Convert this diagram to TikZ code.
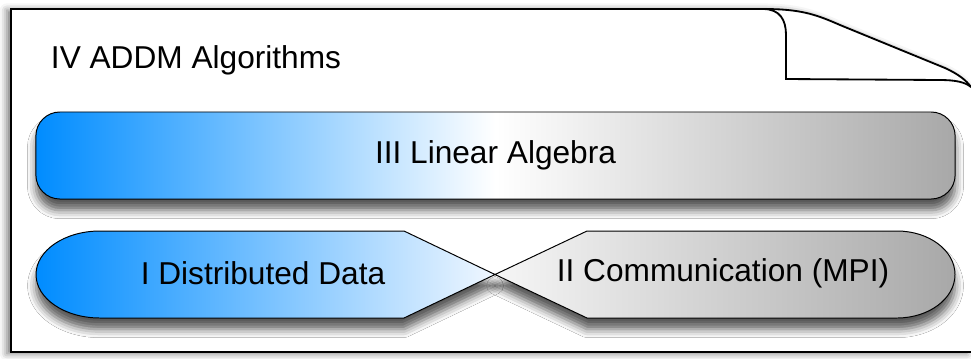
\documentclass[tikz,border=0pt]{standalone}
\usepackage{fontspec}
\setmainfont{Liberation Sans}
\usetikzlibrary{shadows, shadows.blur}
\definecolor{layerblue}{RGB}{0,140,255}
\definecolor{layergray}{RGB}{168,168,168}
\definecolor{layerwhite}{RGB}{240,247,255}
\definecolor{commwhite}{RGB}{246,246,246}
\tikzstyle{layerbox} = [draw=black, line width=0.7pt,
blur shadow={shadow xshift=0pt, shadow yshift=-8pt, shadow blur radius=6pt, shadow opacity=65}]
\tikzstyle{layertext} = [font=\fontsize{22.5}{26}\selectfont, text=black]
\tikzstyle{pageline} = [draw=black, line width=1.3pt]

\begin{document}
\begin{tikzpicture}[x=0.025cm, y=-0.025cm]
        \useasboundingbox (0,0) rectangle (971,358);
        % page with curled corner
        \fill [white, blur shadow={shadow xshift=-3pt, shadow yshift=-1pt, shadow blur radius=5pt, shadow opacity=55}]
            (11,352) -- (11,9) -- (763,9) .. controls (800,9) and (815,14) .. (840,25)
            -- (945,68) .. controls (958,74) and (966,80) .. (971,87) -- (971,352) -- cycle;
        \draw [pageline] (971,352) -- (11,352) -- (11,9) -- (763,9)
            .. controls (800,9) and (815,14) .. (840,25)
            -- (945,68) .. controls (958,74) and (966,80) .. (971,87);
        \draw [pageline] (763,9) .. controls (780,9) and (786,20) .. (786,35)
            -- (786,79) -- (940,80) .. controls (955,80) and (965,82) .. (971,87);
        \node (algos) [layertext, anchor=west] at (46,60) {IV ADDM Algorithms};
        % layer III
        \node (linalg) [layerbox, layertext, rounded corners=0.6cm,
            minimum width=22.975cm, minimum height=2.175cm,
            left color=layerblue, right color=layergray, middle color=white]
            at (495.5,155.5) {III Linear Algebra};
        % layers I and II
        \path [layerbox, left color=layerblue, right color=layerwhite]
            (100,231) -- (404,231) -- (495,274.5) -- (404,318) -- (100,318)
            .. controls (64.6,318) and (36,298.5) .. (36,274.5)
            .. controls (36,250.5) and (64.6,231) .. (100,231) -- cycle;
        \path [layerbox, left color=commwhite, right color=layergray]
            (587,231) -- (897,231)
            .. controls (929,231) and (955,250.5) .. (955,274.5)
            .. controls (955,298.5) and (929,318) .. (897,318)
            -- (587,318) -- (495,274.5) -- cycle;
        \node (distdata) [layertext] at (263,273) {I Distributed Data};
        \node (comm) [layertext] at (723,273) {II Communication (MPI)};
    \end{tikzpicture}
\end{document}
